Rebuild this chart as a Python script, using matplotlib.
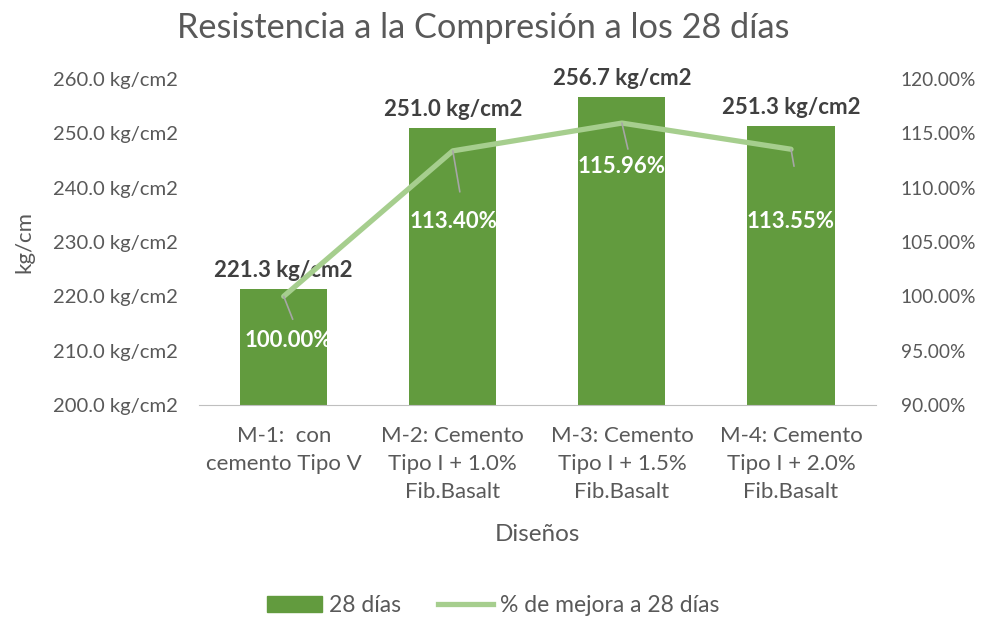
import numpy as np
import matplotlib
matplotlib.use('Agg')
import matplotlib.pyplot as plt
from matplotlib.ticker import FuncFormatter

plt.rcParams['font.family'] = ['Lato', 'DejaVu Sans']

categorias = ['M-1:  con\ncemento Tipo V',
              'M-2: Cemento\nTipo I + 1.0%\nFib.Basalt',
              'M-3: Cemento\nTipo I + 1.5%\nFib.Basalt',
              'M-4: Cemento\nTipo I + 2.0%\nFib.Basalt']
resistencia = [221.3, 251.0, 256.7, 251.3]
mejora = [100.00, 113.40, 115.96, 113.55]

bar_color = '#629B3E'
line_color = '#A6CE8E'
txt = '#595959'

fig = plt.figure(figsize=(9.86, 6.19), dpi=100)
ax = fig.add_axes([0.202, 0.346, 0.686, 0.526])
ax2 = ax.twinx()

x = np.arange(len(categorias))
ax.bar(x, resistencia, width=0.515, color=bar_color, zorder=2)
ax.set_ylim(200, 260)
ax.set_xlim(-0.5, len(categorias) - 0.5)
ax.set_yticks(np.arange(200, 261, 10))
ax.yaxis.set_major_formatter(FuncFormatter(lambda v, p: '%.1f kg/cm2' % v))
ax.set_xticks(x)
ax.set_xticklabels(categorias, fontsize=16, color=txt, linespacing=1.5)
ax.tick_params(axis='x', length=0, labelcolor=txt, pad=15)
ax.tick_params(axis='y', length=0, labelsize=14.6, labelcolor=txt, pad=15)
for s in ['top', 'right', 'left']:
    ax.spines[s].set_visible(False)
ax.spines['bottom'].set_color('#BFBFBF')
ax.set_ylabel('kg/cm', fontsize=16, color=txt, labelpad=14)
ax.set_xlabel('Diseños', fontsize=17.5, color=txt, labelpad=16)

for xi, v in zip(x, resistencia):
    ax.annotate('%.1f kg/cm2' % v, (xi, v), xytext=(0, 8), textcoords='offset pixels',
                ha='center', va='bottom', fontsize=16, fontweight='bold', color='#404040')

ax2.plot(x, mejora, color=line_color, lw=3.8, solid_capstyle='round', zorder=3,
         label='% de mejora a 28 días')
ax2.set_ylim(90, 120)
ax2.set_yticks(np.arange(90, 121, 5))
ax2.yaxis.set_major_formatter(FuncFormatter(lambda v, p: '%.2f%%' % v))
ax2.tick_params(axis='y', length=0, labelsize=13.8, labelcolor=txt, pad=18)
for s in ['top', 'right', 'left', 'bottom']:
    ax2.spines[s].set_visible(False)

# etiquetas de porcentaje con lineas guia
lbl_off = [(5, -44), (1, -71), (0, -43), (0, -72)]
lead_end = [(9, -23), (7, -41), (6, -26), (3, -17)]
for xi, v, lo, le in zip(x, mejora, lbl_off, lead_end):
    ax2.annotate('', xy=(xi, v), xytext=le, textcoords='offset pixels',
                 arrowprops=dict(arrowstyle='-', color='#A6A6A6', lw=1.2,
                                 shrinkA=0, shrinkB=0), zorder=4)
    ax2.annotate('%.2f%%' % v, (xi, v), xytext=lo, textcoords='offset pixels',
                 ha='center', va='center', fontsize=16, fontweight='bold',
                 color='white', zorder=5)

fig.text(0.49, 0.955, 'Resistencia a la Compresión a los 28 días', fontsize=24.7,
         color=txt, ha='center', va='center')

h1 = plt.Rectangle((0, 0), 1, 1, color=bar_color)
h2 = plt.Line2D([0], [0], color=line_color, lw=3.8)
fig.legend([h1, h2], ['28 días', '% de mejora a 28 días'], loc='center',
           bbox_to_anchor=(0.5, 0.022), ncol=2, frameon=False, fontsize=16.5,
           labelcolor=txt, handlelength=2.4, handletextpad=0.3, columnspacing=1.6)

fig.savefig('out.png', dpi=100)
